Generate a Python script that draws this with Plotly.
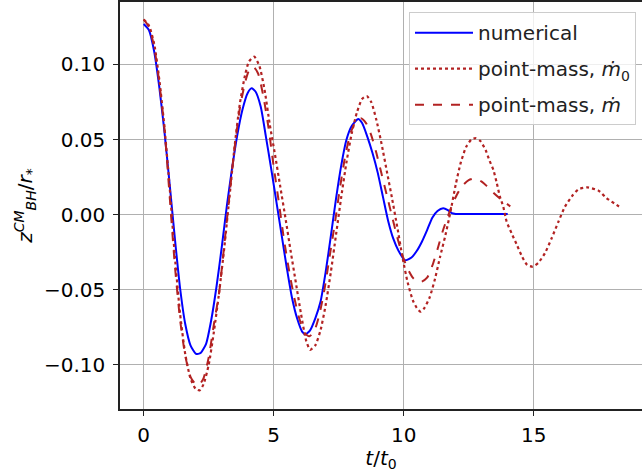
import plotly.graph_objects as go

# ---- data ----
t_num = [0.0, 0.2, 0.4, 0.6, 0.8, 1.0, 1.2, 1.4, 1.6, 1.8, 2.0, 2.1, 2.2, 2.4, 2.6, 2.8,
         3.0, 3.2, 3.4, 3.6, 3.8, 4.0, 4.15, 4.3, 4.5, 4.7, 4.9, 5.1, 5.3, 5.5, 5.7, 5.9,
         6.1, 6.22, 6.4, 6.6, 6.8, 7.0, 7.2, 7.4, 7.6, 7.8, 8.0, 8.25, 8.4, 8.6, 8.8, 9.0,
         9.2, 9.4, 9.6, 9.8, 10.05, 10.3, 10.5, 10.7, 10.9, 11.1, 11.3, 11.52, 11.7, 11.85,
         12.0, 12.5, 13.0, 13.5, 14.0]
z_num = [0.127, 0.123, 0.109, 0.085, 0.055, 0.020, -0.016, -0.049, -0.073, -0.087, -0.0925,
         -0.0927, -0.092, -0.086, -0.070, -0.048, -0.022, 0.006, 0.031, 0.053, 0.070, 0.081,
         0.0841, 0.082, 0.072, 0.052, 0.031, 0.009, -0.013, -0.035, -0.055, -0.069, -0.078,
         -0.0796, -0.077, -0.069, -0.058, -0.038, -0.014, 0.011, 0.033, 0.050, 0.059, 0.0637,
         0.061, 0.052, 0.041, 0.028, 0.012, -0.004, -0.016, -0.024, -0.0304, -0.0285, -0.0242,
         -0.018, -0.0103, -0.002, 0.0025, 0.0043, 0.003, 0.001, 0.0005, 0.0005, 0.0005, 0.0005,
         0.0005]

t_pm0 = [0.0, 0.2, 0.4, 0.6, 0.8, 1.0, 1.2, 1.4, 1.6, 1.8, 2.0, 2.15, 2.3, 2.5, 2.7, 2.9,
         3.1, 3.3, 3.5, 3.7, 3.9, 4.05, 4.25, 4.45, 4.65, 4.85, 5.05, 5.25, 5.45, 5.65, 5.85,
         6.05, 6.25, 6.4, 6.6, 6.8, 7.0, 7.2, 7.4, 7.6, 7.8, 8.0, 8.2, 8.4, 8.58, 8.75, 8.95,
         9.15, 9.35, 9.55, 9.75, 9.95, 10.15, 10.35, 10.5, 10.65, 10.8, 11.0, 11.2, 11.4, 11.6,
         11.8, 12.0, 12.2, 12.4, 12.6, 12.77, 12.95, 13.15, 13.3, 13.45, 13.58, 13.7, 13.83,
         13.96, 14.15, 14.35, 14.54, 14.75, 14.96, 15.18, 15.43, 15.69, 15.95, 16.2, 16.46,
         16.72, 17.06, 17.49, 17.81, 18.19, 18.38]
z_pm0 = [0.130, 0.126, 0.114, 0.090, 0.058, 0.018, -0.028, -0.066, -0.093, -0.109, -0.116,
         -0.117, -0.113, -0.100, -0.078, -0.052, -0.022, 0.012, 0.046, 0.074, 0.093, 0.102,
         0.1052, 0.099, 0.083, 0.060, 0.040, 0.019, -0.002, -0.024, -0.045, -0.066, -0.084,
         -0.090, -0.087, -0.077, -0.060, -0.038, -0.013, 0.012, 0.035, 0.054, 0.068, 0.077,
         0.079, 0.075, 0.063, 0.047, 0.029, 0.011, -0.008, -0.028, -0.045, -0.057, -0.062,
         -0.0646, -0.062, -0.055, -0.043, -0.028, -0.014, 0.002, 0.020, 0.035, 0.045, 0.050,
         0.0509, 0.049, 0.043, 0.036, 0.0298, 0.021, 0.012, 0.0053, -0.0047, -0.0124, -0.020,
         -0.0275, -0.0335, -0.0346, -0.032, -0.0257, -0.0157, -0.0047, 0.0053, 0.012, 0.0169,
         0.0182, 0.016, 0.0109, 0.0065, 0.0043]

t_pm = [0.0, 0.2, 0.4, 0.6, 0.8, 1.0, 1.2, 1.4, 1.6, 1.8, 2.0, 2.12, 2.3, 2.5, 2.7, 2.9,
        3.1, 3.3, 3.5, 3.7, 3.9, 4.05, 4.22, 4.4, 4.6, 4.8, 5.0, 5.2, 5.4, 5.6, 5.8, 6.0,
        6.2, 6.37, 6.55, 6.75, 6.95, 7.15, 7.35, 7.55, 7.75, 7.95, 8.15, 8.35, 8.55, 8.75,
        8.95, 9.15, 9.35, 9.55, 9.75, 9.95, 10.15, 10.35, 10.5, 10.69, 10.9, 11.1, 11.3, 11.5,
        11.7, 11.9, 12.1, 12.3, 12.5, 12.77, 13.0, 13.2, 13.45, 13.77, 14.1]
z_pm = [0.130, 0.125, 0.112, 0.088, 0.057, 0.012, -0.034, -0.070, -0.094, -0.108, -0.113,
        -0.1135, -0.109, -0.095, -0.073, -0.052, -0.020, 0.013, 0.045, 0.071, 0.088, 0.096,
        0.0985, 0.094, 0.079, 0.058, 0.032, 0.008, -0.017, -0.038, -0.056, -0.070, -0.079,
        -0.081, -0.078, -0.067, -0.050, -0.028, -0.006, 0.018, 0.039, 0.054, 0.062, 0.0642,
        0.061, 0.053, 0.041, 0.027, 0.013, -0.001, -0.015, -0.027, -0.036, -0.042, -0.0443,
        -0.0446, -0.042, -0.034, -0.023, -0.011, -0.001, 0.008, 0.015, 0.020, 0.023, 0.0242,
        0.022, 0.019, 0.0146, 0.0098, 0.0055]

x_ticks = [0, 5, 10, 15]
x_tick_labels = ["0", "5", "10", "15"]
y_ticks = [-0.10, -0.05, 0.00, 0.05, 0.10]
y_tick_labels = ["\u22120.10", "\u22120.05", "0.00", "0.05", "0.10"]

names = ["numerical", "point-mass, <i>\u1e41</i><sub>0</sub>", "point-mass, <i>\u1e41</i>"]

FONT = "DejaVu Sans"

fig = go.Figure()
fig.add_trace(go.Scatter(x=t_num, y=z_num, mode="lines", name=names[0], legendgroup="a",
                         line=dict(color="#0000ff", width=2, shape="spline", smoothing=0.6)))
fig.add_trace(go.Scatter(x=t_pm0, y=z_pm0, mode="lines", name=names[1], legendgroup="b",
                         line=dict(color="#b22222", width=2.2, dash="dot", shape="spline", smoothing=0.6)))
fig.add_trace(go.Scatter(x=t_pm, y=z_pm, mode="lines", name=names[2], legendgroup="c",
                         line=dict(color="#b22222", width=2, dash="dash", shape="spline", smoothing=0.6)))

fig.update_layout(
    width=642, height=472,
    margin=dict(l=120, r=0, t=2, b=63),
    paper_bgcolor="white", plot_bgcolor="white",
    font=dict(family=FONT, size=20, color="black"),
    showlegend=True,
    legend=dict(x=0.9885, y=0.975, xanchor="right", yanchor="top",
                bgcolor="rgba(255,255,255,0.8)", bordercolor="#cccccc", borderwidth=1,
                font=dict(family=FONT, size=20, color="#222222"), tracegroupgap=7,
                itemwidth=58),
    xaxis=dict(range=[-0.911, 19.165], tickvals=x_ticks, ticktext=x_tick_labels,
               showgrid=True, gridcolor="#b0b0b0", gridwidth=1.2,
               showline=True, linecolor="#222222", linewidth=1.5, mirror=True,
               ticks="outside", ticklen=5, tickwidth=1.2, tickcolor="#222222",
               zeroline=False, ticklabelstandoff=2,
               title=dict(text="<i>t</i>/<i>t</i><sub>0</sub>", standoff=0,
                          font=dict(family=FONT, size=20))),
    yaxis=dict(range=[-0.1294, 0.1416], tickvals=y_ticks, ticktext=y_tick_labels,
               showgrid=True, gridcolor="#b0b0b0", gridwidth=1.2,
               showline=True, linecolor="#222222", linewidth=1.5, mirror=False,
               ticks="outside", ticklen=5, tickwidth=1.2, tickcolor="#222222",
               zeroline=False, ticklabelstandoff=4,
               title=dict(text="<i>z</i><sup><i>CM</i></sup><sub><i>BH</i></sub>/<i>r</i><sub>*</sub>",
                          standoff=6, font=dict(family=FONT, size=20))),
)

fig.write_html("out.html")
